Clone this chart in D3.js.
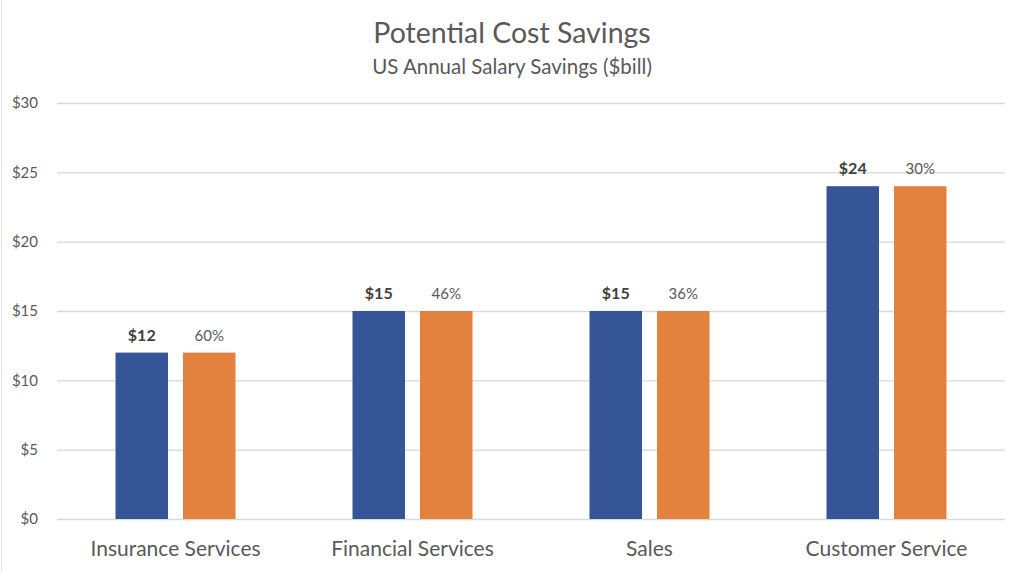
<!DOCTYPE html>
<html><head><meta charset="utf-8">
<script src="https://cdn.jsdelivr.net/npm/d3@7"></script>
<style>body{margin:0;background:#fff}svg{display:block}</style>
</head><body>
<script>
const categories = ["Insurance Services","Financial Services","Sales","Customer Service"];
const savings = [12,15,15,24];
const savingsLabels = ["$12","$15","$15","$24"];
const orangeValues = [12,15,15,24];
const percentLabels = ["60%","46%","36%","30%"];
const yTicks = [0,5,10,15,20,25,30];
const titleText = "Potential Cost Savings";
const subtitleText = "US Annual Salary Savings ($bill)";

const W=1024,H=572;
const font = "Lato, 'Open Sans', sans-serif";
const svg = d3.select("body").append("svg").attr("width",W).attr("height",H);
svg.append("rect").attr("width",W).attr("height",H).attr("fill","#fff");
svg.append("line").attr("x1",1.5).attr("x2",1.5).attr("y1",0).attr("y2",H).attr("stroke","#e4e4e4");

const x0 = d3.scaleBand().domain(categories).range([57,1005]);
const x1 = d3.scaleBand().domain(["a","b"]).range([0,120]).paddingInner(0.222);
const y = d3.scaleLinear().domain([0,30]).range([519,103]);

svg.append("text").attr("x",512).attr("y",43).attr("text-anchor","middle")
  .attr("font-family",font).attr("font-size",28.5).attr("fill","#595959").text(titleText);
svg.append("text").attr("x",512).attr("y",74).attr("text-anchor","middle")
  .attr("font-family",font).attr("font-size",20.5).attr("fill","#595959").text(subtitleText);

const yAxis = d3.axisLeft(y).tickValues(yTicks).tickSize(-(1005-57)).tickFormat(d=>"$"+d).tickPadding(19);
const ga = svg.append("g").attr("transform","translate(57,0)").call(yAxis);
ga.select(".domain").remove();
ga.selectAll(".tick line").attr("stroke","#d9d9d9").attr("stroke-width",1.3);
ga.selectAll(".tick text").attr("font-family",font).attr("font-size",15).attr("fill","#595959");

const xAxis = d3.axisBottom(x0).tickSize(0).tickPadding(22);
const gx = svg.append("g").attr("transform","translate(0,519)").call(xAxis);
gx.select(".domain").remove();
gx.selectAll(".tick text").attr("font-family",font).attr("font-size",21).attr("fill","#595959");

const off = (x0.bandwidth()-120)/2;
const g = svg.append("g");
categories.forEach((c,i)=>{
  const bx = x0(c)+off;
  g.append("rect").attr("x",bx+x1("a")).attr("width",x1.bandwidth()).attr("y",y(savings[i])).attr("height",y(0)-y(savings[i])).attr("fill","#365596");
  g.append("rect").attr("x",bx+x1("b")).attr("width",x1.bandwidth()).attr("y",y(orangeValues[i])).attr("height",y(0)-y(orangeValues[i])).attr("fill","#E3823F");
  g.append("text").attr("x",bx+x1("a")+x1.bandwidth()/2).attr("y",y(savings[i])-12).attr("text-anchor","middle")
    .attr("font-family",font).attr("font-size",16).attr("font-weight","bold").attr("fill","#404040").text(savingsLabels[i]);
  g.append("text").attr("x",bx+x1("b")+x1.bandwidth()/2).attr("y",y(orangeValues[i])-12).attr("text-anchor","middle")
    .attr("font-family",font).attr("font-size",15).attr("fill","#595959").text(percentLabels[i]);
});
</script>
</body></html>
